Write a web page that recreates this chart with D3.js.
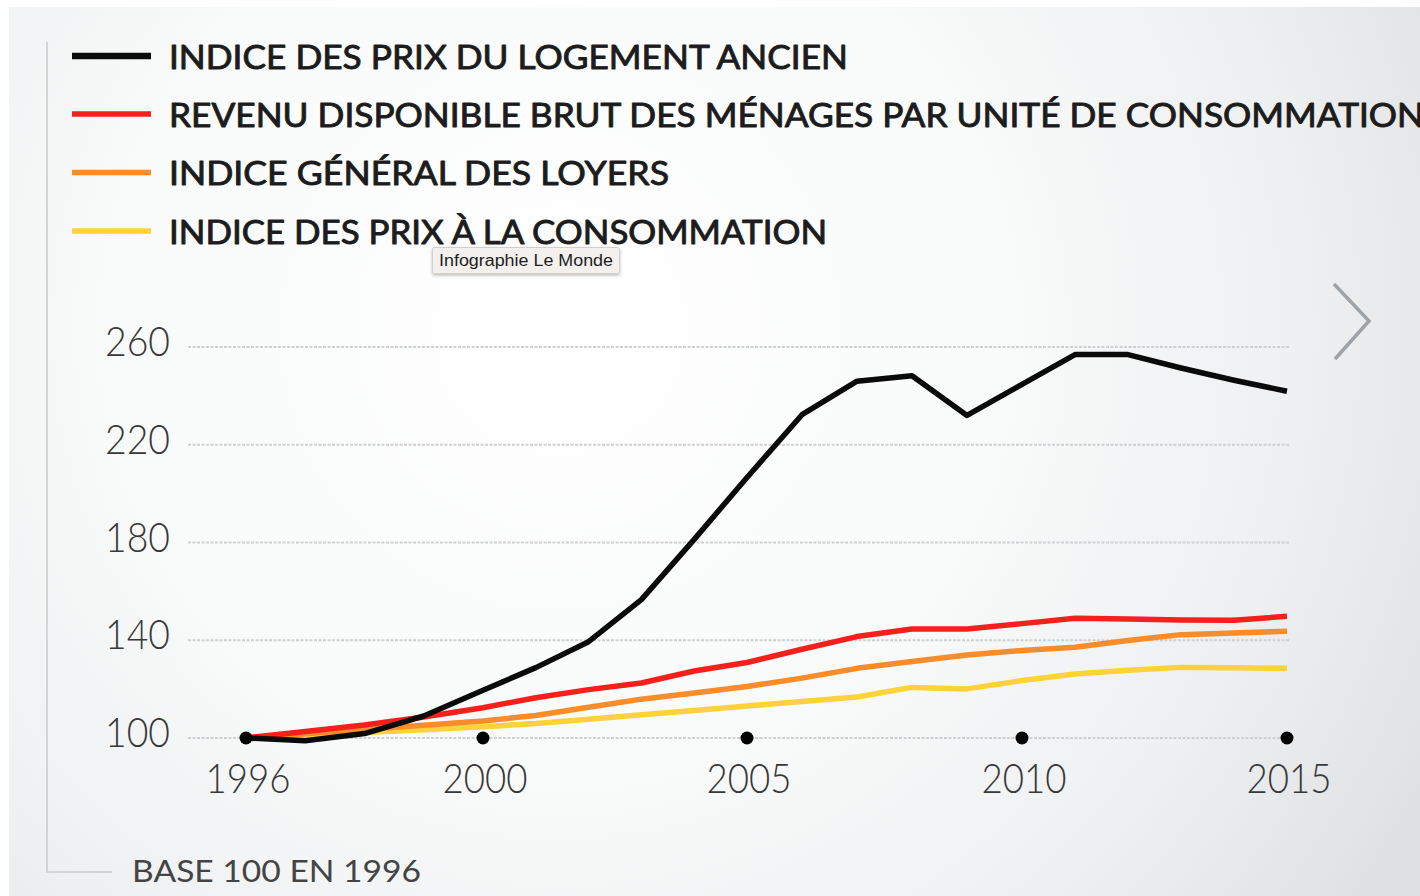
<!DOCTYPE html>
<html>
<head>
<meta charset="utf-8">
<script src="https://cdn.jsdelivr.net/npm/d3@7/dist/d3.min.js"></script>
<style>
  html, body { margin: 0; padding: 0; background: #ffffff; }
  svg { display: block; }
</style>
</head>
<body>
<svg id="chart" width="1420" height="896"></svg>
<script>
// ---------- DATA ----------
const years = [1996, 1997, 1998, 1999, 2000, 2001, 2002, 2003, 2004, 2005,
               2006, 2007, 2008, 2009, 2010, 2011, 2012, 2013, 2014, 2015];
const prixLogementAncien = [100, 98.9, 101.8, 109.0, 119.5, 128.8, 139.4, 156.6, 181.3, 206.6,
                            232.3, 246.0, 248.2, 232.0, 244.7, 256.9, 256.9, 251.4, 246.4, 241.9];
const revenuDisponible = [100, 102.7, 105.3, 108.6, 112.4, 116.5, 119.8, 122.5, 127.4, 130.9,
                          136.3, 141.5, 144.6, 144.6, 146.8, 149.0, 148.7, 148.3, 148.2, 149.8];
const indiceLoyers = [100, 101.7, 103.5, 105.2, 107.0, 109.2, 112.6, 115.9, 118.4, 121.1,
                      124.5, 128.5, 131.3, 134.0, 135.8, 137.1, 139.9, 142.3, 143.0, 143.7];
const prixConsommation = [100, 101.1, 102.3, 103.4, 104.6, 105.9, 107.7, 109.5, 111.3, 113.1,
                          114.9, 116.8, 120.7, 120.1, 123.5, 126.2, 127.7, 128.9, 128.7, 128.5];
const seriesNames = [
  "INDICE DES PRIX DU LOGEMENT ANCIEN",
  "REVENU DISPONIBLE BRUT DES MÉNAGES PAR UNITÉ DE CONSOMMATION",
  "INDICE GÉNÉRAL DES LOYERS",
  "INDICE DES PRIX À LA CONSOMMATION"
];
const seriesColors = ["#0a0a0a", "#f5201c", "#fb8c2a", "#fdd23a"];
const yTicks = [100, 140, 180, 220, 260];
const xTicks = [1996, 2000, 2005, 2010, 2015];
const baseNote = "BASE 100 EN 1996";
const credit = "Infographie Le Monde";

// ---------- BUILD ----------
const seriesValues = [prixLogementAncien, revenuDisponible, indiceLoyers, prixConsommation];
const svg = d3.select("#chart");

// background
const defs = svg.append("defs");
const rg = defs.append("radialGradient").attr("id", "bg")
  .attr("gradientUnits", "userSpaceOnUse")
  .attr("cx", 560).attr("cy", 330).attr("r", 980);
rg.append("stop").attr("offset", "0").attr("stop-color", "#ffffff");
rg.append("stop").attr("offset", "0.45").attr("stop-color", "#f9fafa");
rg.append("stop").attr("offset", "0.75").attr("stop-color", "#eef0f1");
rg.append("stop").attr("offset", "1").attr("stop-color", "#dfe1e3");
const sh = defs.append("filter").attr("id", "shadow").attr("x", "-10%").attr("y", "-20%").attr("width", "130%").attr("height", "160%");
sh.append("feDropShadow").attr("dx", 0).attr("dy", 1.5).attr("stdDeviation", 1.5).attr("flood-color", "#000").attr("flood-opacity", 0.25);

svg.append("rect").attr("x", 9).attr("y", 7).attr("width", 1411).attr("height", 889).attr("fill", "url(#bg)");

// frame bracket
svg.append("path")
  .attr("d", d3.line()([[47, 42], [47, 872], [112, 872]]))
  .attr("fill", "none").attr("stroke", "#d4d4d4").attr("stroke-width", 2);

// scales
const x = d3.scaleLinear().domain(xTicks).range([246, 483, 747, 1022, 1287]);
const y = d3.scaleLinear().domain([100, 260]).range([738, 347]);

// gridlines
svg.append("g").selectAll("line").data(yTicks).join("line")
  .attr("x1", 188).attr("x2", 1290)
  .attr("y1", d => y(d)).attr("y2", d => y(d))
  .attr("stroke", "#cfd0d1").attr("stroke-width", 2).attr("stroke-dasharray", "3,1.5");

// y axis labels
svg.append("g").selectAll("text").data(yTicks).join("text")
  .attr("x", 170).attr("y", d => y(d) + 9)
  .attr("text-anchor", "end")
  .attr("font-family", "Lato, 'Open Sans', sans-serif")
  .attr("font-weight", 300)
  .attr("font-size", 41)
  .attr("fill", "#383838")
  .attr("textLength", 65).attr("lengthAdjust", "spacingAndGlyphs")
  .text(d => d);

// x axis labels
svg.append("g").selectAll("text").data(xTicks).join("text")
  .attr("x", d => x(d) + 2).attr("y", 793)
  .attr("text-anchor", "middle")
  .attr("font-family", "Lato, 'Open Sans', sans-serif")
  .attr("font-weight", 300)
  .attr("font-size", 41)
  .attr("fill", "#383838")
  .attr("textLength", 85).attr("lengthAdjust", "spacingAndGlyphs")
  .text(d => d);

// lines (draw yellow first, black last)
const line = d3.line().x((d, i) => x(years[i])).y(d => y(d));
const order = [3, 2, 1, 0];
svg.append("g").selectAll("path").data(order).join("path")
  .attr("d", k => line(seriesValues[k]))
  .attr("fill", "none")
  .attr("stroke", k => seriesColors[k])
  .attr("stroke-width", 5.5)
  .attr("stroke-linejoin", "round")
  .attr("stroke-linecap", "butt");

// tick dots
svg.append("g").selectAll("circle").data(xTicks).join("circle")
  .attr("cx", d => x(d)).attr("cy", y(100)).attr("r", 6.5)
  .attr("fill", "#000");

// legend
const legendY = [56, 114, 172.5, 231];
const legendW = [679, null, 500, 658];
const lg = svg.append("g");
lg.selectAll("line").data(seriesNames).join("line")
  .attr("x1", 72).attr("x2", 151)
  .attr("y1", (d, i) => legendY[i]).attr("y2", (d, i) => legendY[i])
  .attr("stroke", (d, i) => seriesColors[i])
  .attr("stroke-width", (d, i) => i === 0 ? 6.5 : 5.5);
const lt = lg.selectAll("text").data(seriesNames).join("text")
  .attr("x", 169).attr("y", (d, i) => legendY[i] + 12.5)
  .attr("font-family", "Lato, 'Open Sans', sans-serif")
  .attr("font-weight", 400)
  .attr("font-size", 32)
  .attr("fill", "#1c1c1c")
  .attr("stroke", "#1c1c1c")
  .attr("stroke-width", 0.9)
  .attr("stroke-linejoin", "round")
  .text(d => d);
// fit widths to the reference measures
const n0 = lt.nodes()[0].getComputedTextLength();
const ratio = legendW[0] / n0;
lt.each(function(d, i) {
  const w = legendW[i] !== null ? legendW[i] : this.getComputedTextLength() * ratio;
  d3.select(this).attr("textLength", w).attr("lengthAdjust", "spacingAndGlyphs");
});

// base note
svg.append("text")
  .attr("x", 132).attr("y", 882)
  .attr("font-family", "Lato, 'Open Sans', sans-serif")
  .attr("font-weight", 400)
  .attr("font-size", 30)
  .attr("fill", "#444")
  .attr("textLength", 289).attr("lengthAdjust", "spacingAndGlyphs")
  .text(baseNote);

// chevron
svg.append("path")
  .attr("d", d3.line()([[1334, 284], [1369, 321], [1335, 359]]))
  .attr("fill", "none").attr("stroke", "#9da3a8").attr("stroke-width", 3.5);

// credit tooltip
const tip = svg.append("g");
tip.append("rect").attr("x", 432.5).attr("y", 247.5).attr("width", 187).attr("height", 26)
  .attr("rx", 2).attr("fill", "#f4f0ee").attr("stroke", "#d2cfcd").attr("filter", "url(#shadow)");
tip.append("text").attr("x", 439).attr("y", 266)
  .attr("font-family", "'Liberation Sans', Arial, sans-serif")
  .attr("font-size", 16).attr("fill", "#1e1e1e")
  .attr("textLength", 174).attr("lengthAdjust", "spacingAndGlyphs")
  .text(credit);
</script>
</body>
</html>
